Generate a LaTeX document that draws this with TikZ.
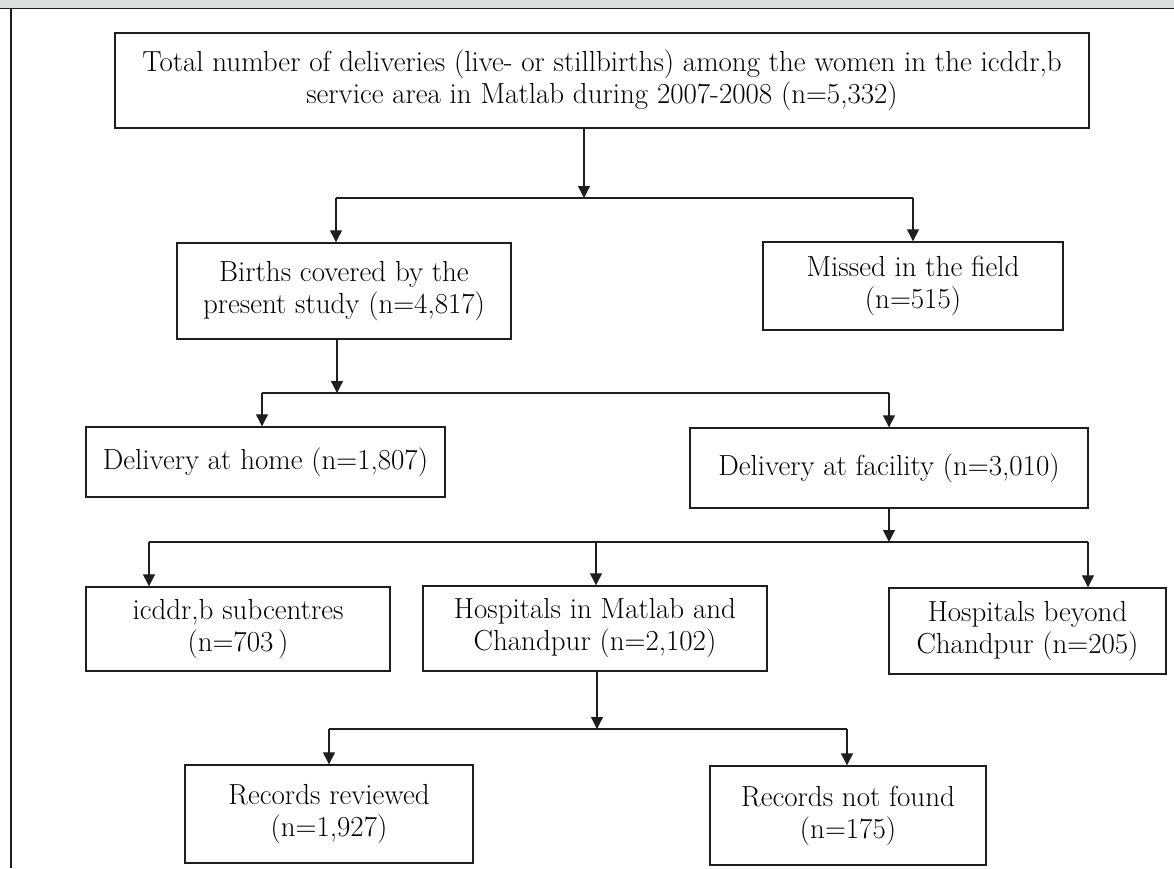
\documentclass[tikz,border=0pt]{standalone}
\usetikzlibrary{arrows.meta}
\definecolor{hdr}{RGB}{221,223,222}
\definecolor{ink}{RGB}{30,30,30}
\begin{document}
\begin{tikzpicture}[x=1pt,y=1pt,
  box/.style={draw=ink, line width=1.4pt, align=center, inner sep=0pt,
    font=\fontsize{29}{32}\selectfont},
  conn/.style={draw=ink, line width=1.2pt},
  arr/.style={conn, -{Triangle[length=12pt,width=12pt]}}]
\useasboundingbox (0,0) rectangle (1174,-868);
% frame
\fill[hdr] (0,0) rectangle (1174,-8.5);
\draw[ink, line width=1.3pt] (0,-8.5) -- (1174,-8.5);
\draw[ink, line width=1.3pt] (11,-8.5) -- (11,-868);
% boxes
\node[box, minimum width=974, minimum height=95] (top) at (602,-80.5)
  {Total number of deliveries (live- or stillbirths) among the women in the icddr,b\\ service area in Matlab during 2007-2008 (n=5,332)};
\node[box, minimum width=334, minimum height=96] (births) at (344,-291)
  {Births covered by the\\ present study (n=4,817)};
\node[box, minimum width=300, minimum height=88] (missed) at (913,-286)
  {Missed in the field\\ (n=515)};
\node[box, minimum width=359, minimum height=70] (home) at (265.5,-462)
  {Delivery at home (n=1,807)};
\node[box, minimum width=398, minimum height=80] (facility) at (889,-468)
  {Delivery at facility (n=3,010)};
\node[box, minimum width=304, minimum height=84] (subc) at (238,-629)
  {icddr,b subcentres\\ (n=703\,)};
\node[box, minimum width=344, minimum height=85] (hosp) at (595,-628.5)
  {Hospitals in Matlab and\\ Chandpur (n=2,102)};
\node[box, minimum width=277, minimum height=86] (beyond) at (1027.5,-631)
  {Hospitals beyond\\ Chandpur (n=205)};
\node[box, minimum width=288, minimum height=98] (reviewed) at (329,-814)
  {Records reviewed\\ (n=1,927)};
\node[box, minimum width=276, minimum height=99] (notfound) at (848,-815.5)
  {Records not found\\ (n=175)};
% level 1
\coordinate (j1) at (584,-198);
\coordinate (j1l) at (336,-198);
\coordinate (j1r) at (913,-198);
\draw[arr] (top.south -| j1) -- (j1);
\draw[conn] (j1l) -- (j1r);
\draw[arr] (j1l) -- (j1l |- births.north);
\draw[arr] (j1r) -- (j1r |- missed.north);
% level 2
\coordinate (j2) at (337,-393);
\coordinate (j2l) at (262,-393);
\coordinate (j2r) at (889,-393);
\draw[arr] (births.south -| j2) -- (j2);
\draw[conn] (j2l) -- (j2r);
\draw[arr] (j2l) -- (j2l |- home.north);
\draw[arr] (j2r) -- (j2r |- facility.north);
% level 3
\coordinate (j3) at (889,-542);
\coordinate (j3l) at (149,-542);
\coordinate (j3m) at (596,-542);
\coordinate (j3r) at (1088,-542);
\draw[arr] (facility.south -| j3) -- (j3);
\draw[conn] (j3l) -- (j3r);
\draw[arr] (j3l) -- (j3l |- subc.north);
\draw[arr] (j3m) -- (j3m |- hosp.north);
\draw[arr] (j3r) -- (j3r |- beyond.north);
% level 4
\coordinate (j4) at (597,-729);
\coordinate (j4l) at (329,-729);
\coordinate (j4r) at (847,-729);
\draw[arr] (hosp.south -| j4) -- (j4);
\draw[conn] (j4l) -- (j4r);
\draw[arr] (j4l) -- (j4l |- reviewed.north);
\draw[arr] (j4r) -- (j4r |- notfound.north);
\end{tikzpicture}
\end{document}
